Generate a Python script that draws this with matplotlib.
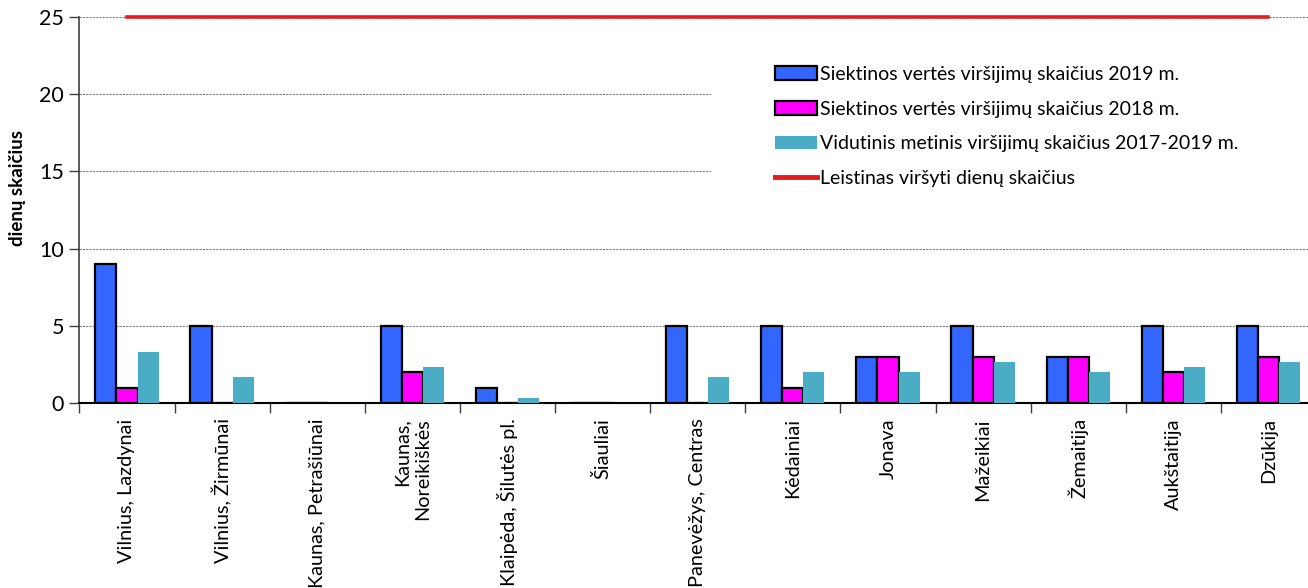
import matplotlib
matplotlib.use("Agg")
import matplotlib.pyplot as plt
from matplotlib.patches import Rectangle
import numpy as np

plt.rcParams['font.family'] = ['Lato', 'DejaVu Sans']

stations = ["Vilnius, Lazdynai", "Vilnius, Žirmūnai", "Kaunas, Petrašiūnai",
            "Kaunas,\nNoreikiškės", "Klaipėda, Šilutės pl.", "Šiauliai",
            "Panevėžys, Centras", "Kėdainiai", "Jonava", "Mažeikiai",
            "Žemaitija", "Aukštaitija", "Dzūkija"]
exceed_2019 = [9, 5, 0, 5, 1, 0, 5, 5, 3, 5, 3, 5, 5]
exceed_2018 = [1, 0, 0, 2, 0, 0, 0, 1, 3, 3, 3, 2, 3]
avg_2017_2019 = [3.33, 1.67, 0, 2.33, 0.33, 0, 1.67, 2, 2, 2.67, 2, 2.33, 2.67]
allowed_days = 25

labels = ["Siektinos vertės viršijimų skaičius 2019 m.",
          "Siektinos vertės viršijimų skaičius 2018 m.",
          "Vidutinis metinis viršijimų skaičius 2017-2019 m.",
          "Leistinas viršyti dienų skaičius"]

W, H = 1308, 588
fig = plt.figure(figsize=(W / 100, H / 100), dpi=100)
ax = fig.add_axes([79.4 / W, 1 - 403 / H, (1316 - 79.4) / W, (403 - 17) / H])

x = np.arange(len(stations))
bw = 0.222
b1 = ax.bar(x - bw, exceed_2019, bw, color="#3366FF", edgecolor="black",
            linewidth=1.6, zorder=3, label=labels[0])
b2 = ax.bar(x, exceed_2018, bw, color="#FF00FF", edgecolor="black",
            linewidth=1.6, zorder=3, label=labels[1])
b3 = ax.bar(x + bw, avg_2017_2019, bw, color="#4BACC6", linewidth=0,
            zorder=3, label=labels[2])
ln, = ax.plot(x, [allowed_days] * len(x), color="#E41A1C", linewidth=2.6,
              zorder=4, label=labels[3], clip_on=False)

ax.set_xlim(-0.5, len(stations) - 0.5)
ax.set_ylim(0, 25)
ax.set_yticks(range(0, 26, 5))
ax.set_axisbelow(True)
ax.yaxis.grid(True, color="#808080", linestyle=(0, (2, 1)), linewidth=0.8, zorder=0.5)

# white backdrop behind the legend block
ax.add_patch(Rectangle((0.511, 0.526), 0.5, 0.414, transform=ax.transAxes,
                       facecolor="white", edgecolor="none", zorder=1))

ax.set_xticks(x)
ax.set_xticklabels(stations, rotation=90, fontsize=14.3, va="top", ha="center",
                   multialignment="right")
ax.set_xticks(np.arange(-0.5, len(stations), 1), minor=True)
ax.tick_params(axis="x", which="major", length=0, pad=11)
ax.tick_params(axis="x", which="minor", length=7, width=1, color="#404040",
               direction="out")
ax.tick_params(axis="y", length=7, width=1, color="#404040", direction="out",
               labelsize=15.5, pad=4)

for s in ("top", "right"):
    ax.spines[s].set_visible(False)
ax.spines["left"].set_color("#404040")
ax.spines["left"].set_linewidth(1.2)
ax.spines["bottom"].set_color("black")
ax.spines["bottom"].set_linewidth(1.5)

fig.text(18 / W, 1 - 188 / H, "dienų skaičius", rotation=90, fontsize=13.5,
         fontweight="bold", ha="center", va="center")

leg = ax.legend(handles=[b1, b2, b3, ln], loc="upper left",
                bbox_to_anchor=(775 / W, 1 - 66 / H),
                bbox_transform=fig.transFigure, frameon=False, fontsize=14,
                handlelength=2.15, handleheight=0.7, handletextpad=0.15,
                labelspacing=0.91, borderpad=0, borderaxespad=0)
for h in leg.legend_handles[:2]:
    h.set_linewidth(1.6)
leg.legend_handles[3].set_linewidth(3.5)
leg.set_zorder(5)

fig.savefig("out.png", dpi=100)
